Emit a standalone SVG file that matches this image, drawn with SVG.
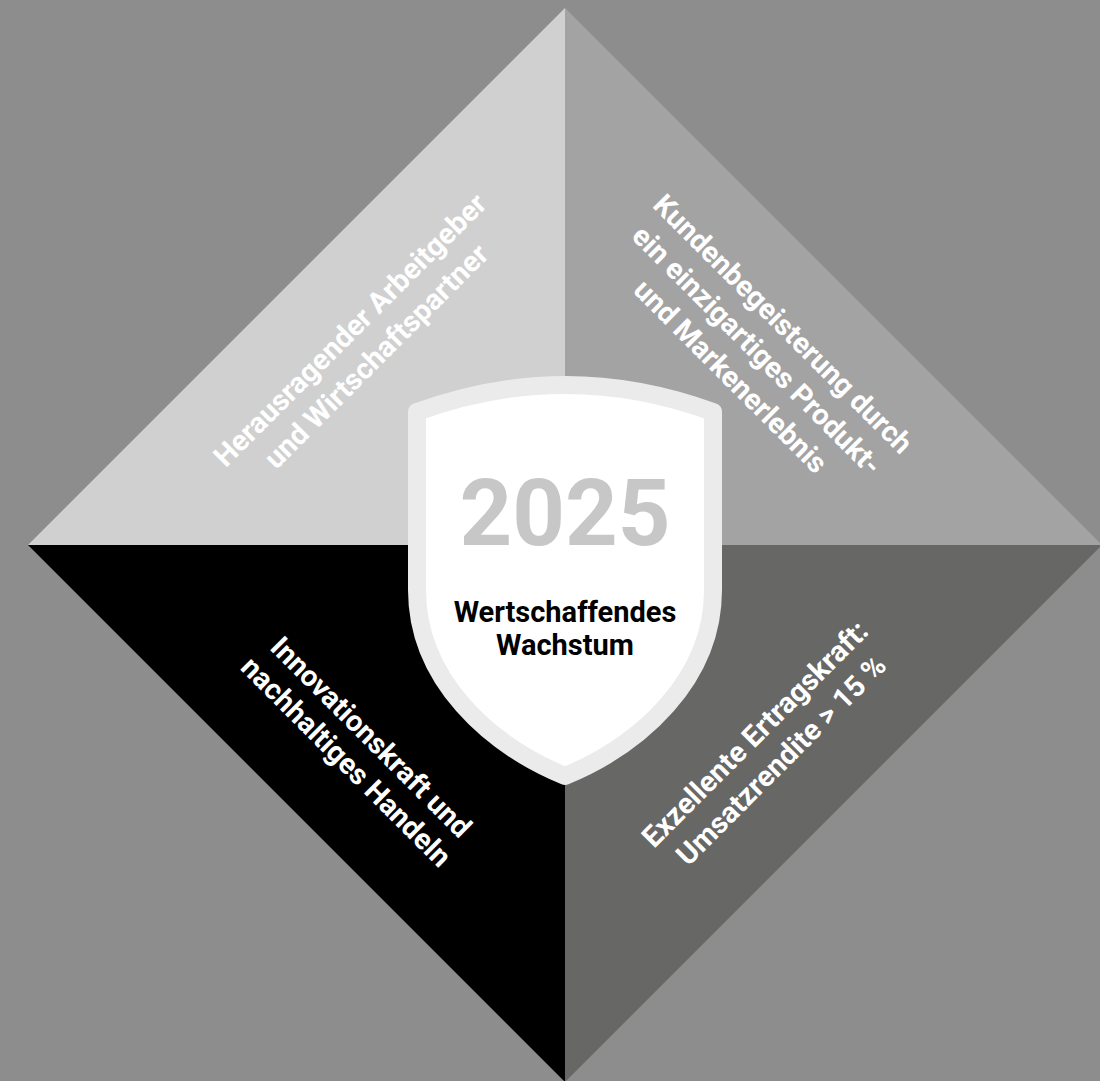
<svg xmlns="http://www.w3.org/2000/svg" width="1100" height="1081" viewBox="0 0 1100 1081">
  <style>
    .lbl { font-family: Roboto, "Liberation Sans", sans-serif; font-weight: 700; font-size: 29px; fill: #ffffff; text-anchor: middle; }
    .ctr { font-family: Roboto, "Liberation Sans", sans-serif; font-weight: 700; text-anchor: middle; }
  </style>
  <rect width="1100" height="1081" fill="#8c8d8c"/>
  <g id="quadrant-top-left">
    <polygon points="28,545 565,8 565,545" fill="#d0d0d0"/>
    <text class="lbl" transform="translate(357,337) rotate(-45)"><tspan x="0" y="0">Herausragender Arbeitgeber</tspan><tspan x="0" y="37">und Wirtschaftspartner</tspan></text>
  </g>
  <g id="quadrant-top-right">
    <polygon points="565,8 1102,545 565,545" fill="#a3a3a3"/>
    <text class="lbl" transform="translate(776,331) rotate(45)"><tspan x="0" y="0">Kundenbegeisterung durch</tspan><tspan x="0" y="37">ein einzigartiges Produkt-</tspan><tspan x="0" y="74">und Markenerlebnis</tspan></text>
  </g>
  <g id="quadrant-bottom-left">
    <polygon points="28,545 565,545 565,1082" fill="#000000"/>
    <text class="lbl" transform="translate(364,744) rotate(45)"><tspan x="0" y="0">Innovationskraft und</tspan><tspan x="0" y="35">nachhaltiges Handeln</tspan></text>
  </g>
  <g id="quadrant-bottom-right">
    <polygon points="565,545 1102,545 565,1082" fill="#676766"/>
    <text class="lbl" transform="translate(762,741) rotate(-45)"><tspan x="0" y="0">Exzellente Ertragskraft:</tspan><tspan x="0" y="37">Umsatzrendite &gt; 15 %</tspan></text>
  </g>
  <g id="center-shield">
    <path d="M417,412 Q565,358 713,412 L713,590 C713,680 640,745 565,776 C490,745 417,680 417,590 Z" fill="#ffffff" stroke="#ebebeb" stroke-width="18" stroke-linejoin="round"/>
    <text class="ctr" x="565" y="545" font-size="92" fill="#c6c7c6">2025</text>
    <text class="ctr" x="565" y="622" font-size="29" fill="#000000">Wertschaffendes</text>
    <text class="ctr" x="565" y="655" font-size="29" fill="#000000">Wachstum</text>
  </g>
  <g id="connectors"/>
</svg>
